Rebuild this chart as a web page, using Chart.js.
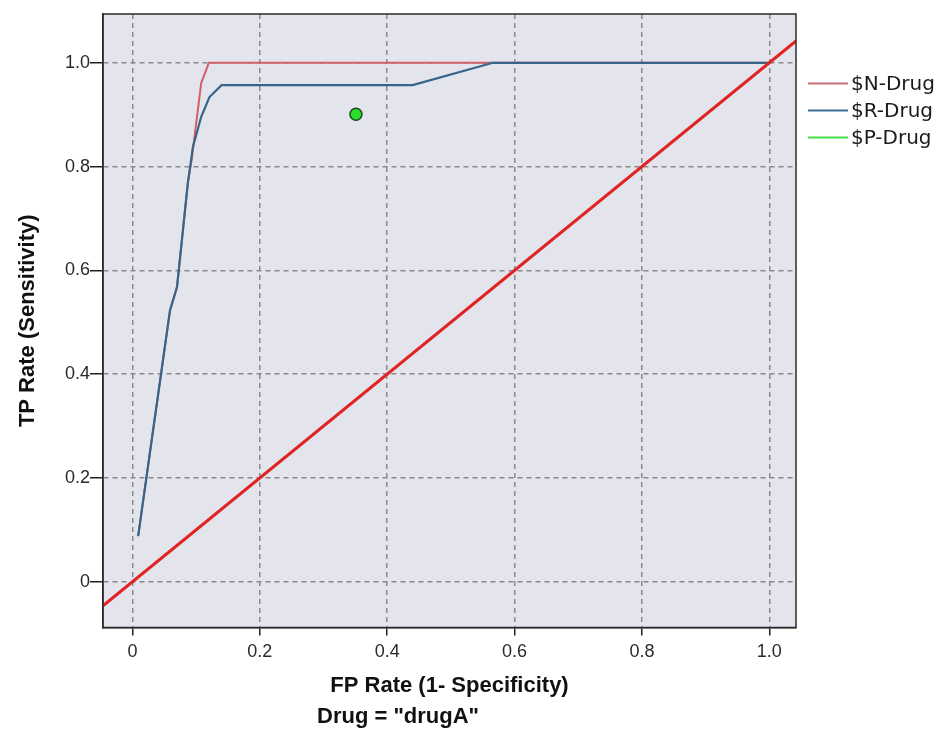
<!DOCTYPE html>
<html>
<head>
<meta charset="utf-8">
<script src="https://cdn.jsdelivr.net/npm/chart.js@4"></script>
<style>
  html, body { margin: 0; padding: 0; background: #fff; }
  canvas { display: block; }
</style>
</head>
<body>
<canvas id="roc" width="940" height="734"></canvas>
<script>
// ROC curves for Drug = "drugA"
const xTicks = [0, 0.2, 0.4, 0.6, 0.8, 1.0];
const xTickLabels = ['0', '0.2', '0.4', '0.6', '0.8', '1.0'];
const yTicks = [0, 0.2, 0.4, 0.6, 0.8, 1.0];
const yTickLabels = ['0', '0.2', '0.4', '0.6', '0.8', '1.0'];

const seriesNames = ['$N-Drug', '$R-Drug', '$P-Drug'];

// $N-Drug curve
const fpN = [0.009, 0.059, 0.070, 0.087, 0.093, 0.108, 0.120, 1.0];
const tpN = [0.088, 0.523, 0.568, 0.768, 0.813, 0.961, 1.0, 1.0];

// $R-Drug curve
const fpR = [0.009, 0.059, 0.070, 0.087, 0.095, 0.108, 0.121, 0.140, 0.440, 0.566, 1.0];
const tpR = [0.088, 0.523, 0.568, 0.768, 0.838, 0.896, 0.934, 0.957, 0.957, 1.0, 1.0];

// $P-Drug single point
const fpP = [0.351];
const tpP = [0.901];

// chance diagonal
const fpDiag = [-0.05, 1.05];
const tpDiag = [-0.05, 1.05];

const pts = (xs, ys) => xs.map((x, i) => ({ x, y: ys[i] }));

const plotFrame = {
  id: 'plotFrame',
  beforeDraw(chart) {
    const { ctx, chartArea: a } = chart;
    ctx.save();
    ctx.fillStyle = '#ffffff';
    ctx.fillRect(0, 0, chart.width, chart.height);
    ctx.fillStyle = '#e4e5ec';
    ctx.fillRect(a.left, a.top, a.width, a.height);
    ctx.restore();
  },
  afterDraw(chart) {
    const { ctx, chartArea: a } = chart;
    ctx.save();
    ctx.strokeStyle = '#2b2b2b';
    ctx.lineWidth = 1.5;
    ctx.strokeRect(a.left, a.top, a.width, a.height);
    ctx.restore();
  }
};

// legend to the right of the plot
const sideLegend = {
  id: 'sideLegend',
  afterDraw(chart) {
    const { ctx, chartArea: a } = chart;
    const items = chart.data.datasets.filter(d => seriesNames.includes(d.label));
    ctx.save();
    ctx.font = '20px "DejaVu Sans"';
    ctx.textBaseline = 'middle';
    ctx.fillStyle = '#1a1a1a';
    items.forEach((d, i) => {
      const y = a.top + 69.5 + i * 27;
      ctx.strokeStyle = d.legendColor;
      ctx.lineWidth = 2;
      ctx.beginPath();
      ctx.moveTo(a.right + 12, y);
      ctx.lineTo(a.right + 52, y);
      ctx.stroke();
      ctx.fillText(d.label, a.right + 55, y + 1);
    });
    ctx.restore();
  }
};

const tickFont = { family: "'Liberation Sans', Arial, sans-serif", size: 18 };
const titleFont = { family: "'Liberation Sans', Arial, sans-serif", size: 22, weight: 'bold', lineHeight: 1.2 };

new Chart(document.getElementById('roc'), {
  type: 'scatter',
  data: {
    datasets: [
      {
        label: seriesNames[0],
        data: pts(fpN, tpN),
        showLine: true,
        borderColor: '#d35f69',
        legendColor: '#c97077',
        borderWidth: 2,
        pointRadius: 0,
        order: 4
      },
      {
        label: seriesNames[1],
        data: pts(fpR, tpR),
        showLine: true,
        borderColor: '#36658a',
        legendColor: '#3d7099',
        borderWidth: 2.2,
        pointRadius: 0,
        order: 3
      },
      {
        label: '',
        data: pts(fpDiag, tpDiag),
        showLine: true,
        borderColor: '#e02424',
        borderWidth: 3,
        pointRadius: 0,
        clip: 0,
        order: 2
      },
      {
        label: seriesNames[2],
        data: pts(fpP, tpP),
        showLine: false,
        legendColor: '#44dd44',
        backgroundColor: '#2bdc2b',
        borderColor: '#1f4a1f',
        borderWidth: 1.5,
        pointRadius: 6,
        order: 1
      }
    ]
  },
  options: {
    responsive: false,
    devicePixelRatio: 1,
    animation: false,
    layout: { padding: { top: 14, right: 144, left: 0, bottom: 0 } },
    plugins: {
      legend: { display: false },
      tooltip: { enabled: false },
      title: {
        display: true,
        position: 'bottom',
        text: 'Drug = "drugA"',
        color: '#111',
        font: { family: "'Liberation Sans', Arial, sans-serif", size: 22, weight: 'bold', lineHeight: 1.2 },
        padding: { top: 4, bottom: 4 }
      }
    },
    scales: {
      x: {
        type: 'linear',
        min: -0.0462,
        max: 1.042,
        afterBuildTicks: s => { s.ticks = xTicks.map(v => ({ value: v })); },
        afterFit: s => { s.height = 734 - 627.5 - 34.4; },
        ticks: {
          padding: 6,
          color: '#2a2a2a',
          font: tickFont,
          callback: (v, i) => xTickLabels[i]
        },
        grid: { color: '#8a8a8a', lineWidth: 1.5, tickLength: 8, tickColor: '#222', tickWidth: 1.5 },
        border: { display: true, color: '#2b2b2b', width: 1.5, dash: [5, 4] },
        title: {
          display: true,
          text: 'FP Rate (1- Specificity)',
          color: '#111',
          font: titleFont,
          padding: { top: 0, bottom: 0 }
        }
      },
      y: {
        type: 'linear',
        min: -0.088,
        max: 1.094,
        afterBuildTicks: s => { s.ticks = yTicks.map(v => ({ value: v })); },
        afterFit: s => { s.width = 103; },
        ticks: {
          padding: 0,
          color: '#2a2a2a',
          font: tickFont,
          callback: (v, i) => yTickLabels[i]
        },
        grid: { color: '#8a8a8a', lineWidth: 1.5, tickLength: 13, tickColor: '#222', tickWidth: 1.5 },
        border: { display: true, color: '#2b2b2b', width: 1.5, dash: [5, 4] },
        title: {
          display: true,
          text: 'TP Rate (Sensitivity)',
          color: '#111',
          font: titleFont,
          padding: { top: 15, bottom: 0 }
        }
      }
    }
  },
  plugins: [plotFrame, sideLegend]
});
</script>
</body>
</html>
